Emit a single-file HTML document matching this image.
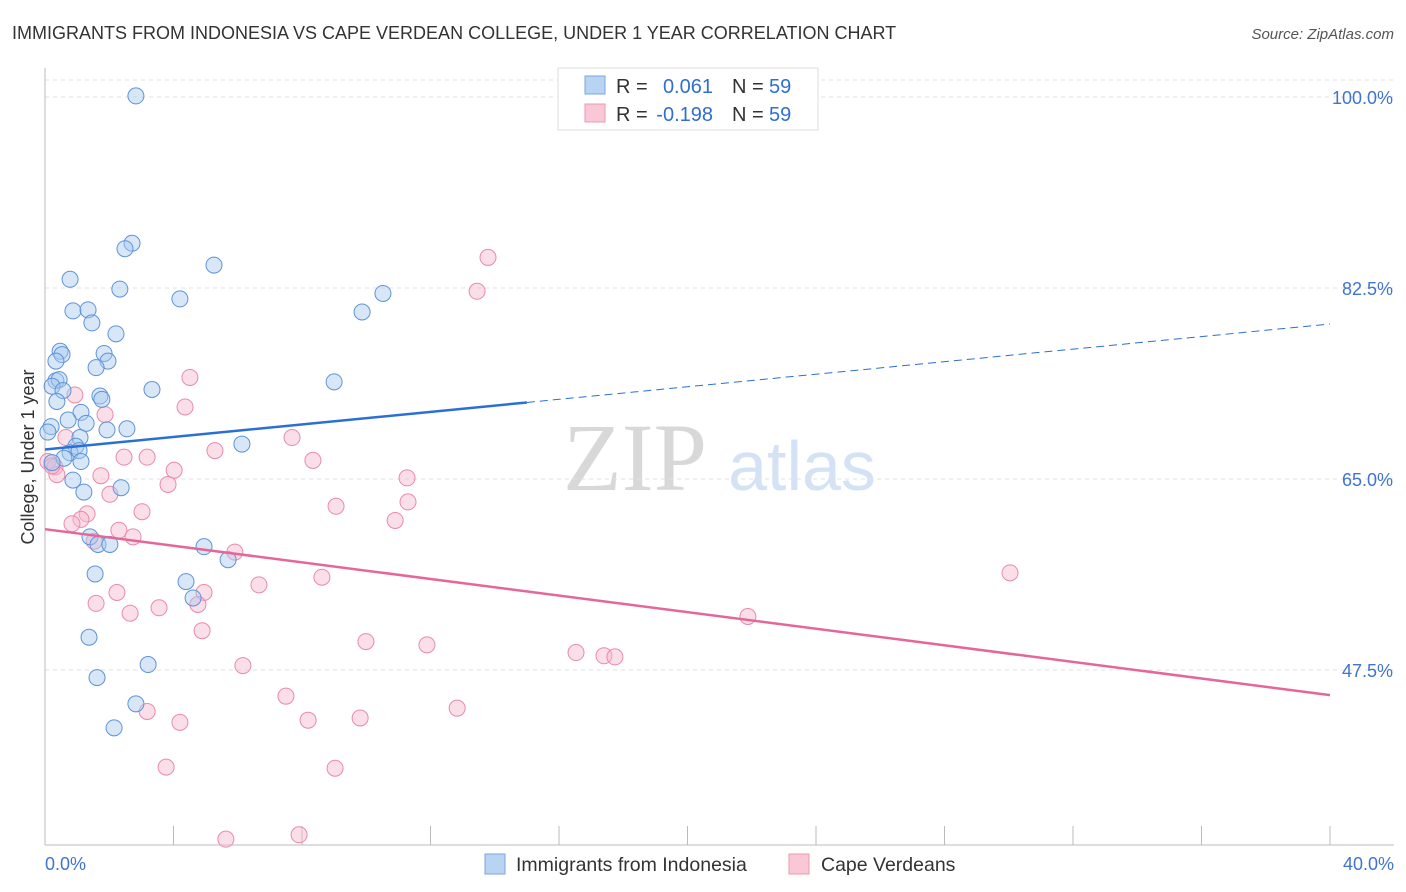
<!DOCTYPE html>
<html><head><meta charset="utf-8">
<style>
body{margin:0;background:#fff;font-family:"Liberation Sans",sans-serif;}
#wrap{position:relative;width:1406px;height:892px;overflow:hidden;}
</style></head>
<body>
<div id="wrap">
<svg id="chart" width="1406" height="892" xmlns="http://www.w3.org/2000/svg">
  <text x="12" y="39" font-size="18" fill="#333">IMMIGRANTS FROM INDONESIA VS CAPE VERDEAN COLLEGE, UNDER 1 YEAR CORRELATION CHART</text>
  <text x="1394" y="39" font-size="15" fill="#555" font-style="italic" text-anchor="end">Source: ZipAtlas.com</text>
  <text x="635" y="490" font-size="96" fill="#d8d8d8" font-family="Liberation Serif,serif" text-anchor="middle">ZIP</text>
  <text x="802" y="490" font-size="70" fill="#d3e3f5" text-anchor="middle">atlas</text>
  <text transform="translate(34,457) rotate(-90)" font-size="18" fill="#333" text-anchor="middle">College, Under 1 year</text>
  <g id="grid"></g>
  <g id="marks"></g>
  <g>
    <rect x="558" y="68" width="260" height="62" fill="#fff" stroke="#ddd"/>
    <rect x="585" y="76" width="20" height="18" fill="#b9d3f3" stroke="#7aa6e0"/>
    <rect x="585" y="104" width="20" height="18" fill="#f9c7d6" stroke="#ec98b4"/>
    <text x="616" y="93" font-size="20" fill="#333">R =</text>
    <text x="713" y="93" font-size="20" fill="#2f6fd0" text-anchor="end">0.061</text>
    <text x="732" y="93" font-size="20" fill="#333">N =</text>
    <text x="769" y="93" font-size="20" fill="#2f6fd0">59</text>
    <text x="616" y="121" font-size="20" fill="#333">R =</text>
    <text x="713" y="121" font-size="20" fill="#2f6fd0" text-anchor="end">-0.198</text>
    <text x="732" y="121" font-size="20" fill="#333">N =</text>
    <text x="769" y="121" font-size="20" fill="#2f6fd0">59</text>
  </g>
  <g>
    <rect x="485" y="854" width="20" height="20" fill="#b9d3f3" stroke="#7aa6e0"/>
    <text x="516" y="871" font-size="19.5" fill="#333">Immigrants from Indonesia</text>
    <rect x="789" y="854" width="20" height="20" fill="#f9c7d6" stroke="#ec98b4"/>
    <text x="821" y="871" font-size="19.5" fill="#333">Cape Verdeans</text>
  </g>
</svg>
</div>
<script>
const blueX=[2.83,2.71,2.49,5.26,0.78,2.33,4.20,10.52,0.87,1.34,9.87,1.46,2.21,0.47,0.53,1.84,0.34,1.96,1.59,0.34,0.44,0.22,9.00,3.33,0.56,1.71,1.77,0.37,1.12,0.72,1.28,6.13,0.19,0.09,1.93,2.55,1.09,0.96,0.78,1.06,0.59,1.12,0.22,2.37,0.87,1.21,1.40,1.65,2.02,4.95,5.70,1.56,4.39,4.61,1.37,3.21,1.62,2.83,2.15];
const blueY=[100.1,86.6,86.1,84.6,83.3,82.4,81.5,82.0,80.4,80.5,80.3,79.3,78.3,76.7,76.4,76.5,75.8,75.8,75.2,74.0,74.1,73.5,73.9,73.2,73.1,72.6,72.3,72.1,71.1,70.4,70.1,68.2,69.8,69.3,69.5,69.6,68.8,68.0,67.4,67.6,66.9,66.6,66.5,64.2,64.9,63.8,59.7,59.0,59.0,58.8,57.6,56.3,55.6,54.1,50.5,48.0,46.8,44.4,42.2];
const pinkX=[13.79,13.45,4.51,0.93,4.36,1.87,0.65,7.69,5.29,2.46,3.18,8.34,0.09,0.31,4.02,0.37,1.74,11.27,3.83,2.02,11.30,9.06,1.31,3.02,1.12,10.90,0.84,2.30,2.74,1.53,5.91,8.62,6.66,30.04,2.24,4.95,1.59,4.76,3.55,2.65,21.88,4.89,9.99,11.89,16.53,17.40,17.74,6.16,7.50,3.18,12.83,4.20,8.19,9.81,3.77,9.03,5.63,7.91,0.22];
const pinkY=[85.3,82.2,74.3,72.7,71.6,70.9,68.8,68.8,67.6,67.0,67.0,66.7,66.6,66.1,65.8,65.4,65.3,65.1,64.5,63.6,62.9,62.5,61.8,62.0,61.3,61.2,60.9,60.3,59.7,59.3,58.3,56.0,55.3,56.4,54.6,54.6,53.6,53.5,53.2,52.7,52.4,51.1,50.1,49.8,49.1,48.8,48.7,47.9,45.1,43.7,44.0,42.7,42.9,43.1,38.6,38.5,32.0,32.4,66.2];
const yTicks=[100,82.5,65,47.5];
const yTickLabels=["100.0%","82.5%","65.0%","47.5%"];
const xTickVals=[0,4,8,12,16,20,24,28,32,36,40];
const blueLine=[67.7,79.2];
const pinkLine=[60.4,45.2];
const blueSolidEnd=15;

const NS="http://www.w3.org/2000/svg";
const xs=v=>45+v*32.125;
const ys=v=>97+(100-v)*10.914;
function mk(tag,attrs,parent){const e=document.createElementNS(NS,tag);for(const k in attrs)e.setAttribute(k,attrs[k]);parent.appendChild(e);return e;}
const grid=document.getElementById('grid'),marks=document.getElementById('marks');
yTicks.forEach((t,i)=>{
  const l=mk('line',{x1:45,x2:1394,y1:ys(t),y2:ys(t),stroke:'#e2e2e2','stroke-dasharray':'4,4'},grid);
  
  
  const tx=mk('text',{x:1393,y:ys(t)+7,'font-size':18,fill:'#3f74cf','text-anchor':'end'},grid);
  tx.textContent=yTickLabels[i];
  
  
});
mk('line',{x1:45,x2:1394,y1:80,y2:80,stroke:'#e2e2e2','stroke-dasharray':'4,4'},grid);
const ax=mk('line',{x1:45,x2:45,y1:68,y2:845,stroke:'#bbb'},grid);


const bx=mk('line',{x1:45,x2:1394,y1:845,y2:845,stroke:'#bbb'},grid);


xTickVals.forEach(t=>{
  const l=mk('line',{x1:xs(t),x2:xs(t),y1:826,y2:845,stroke:'#bbb'},grid);
  
  
});
const xl0=mk('text',{x:45,y:870,'font-size':18,fill:'#3f74cf'},grid);xl0.textContent='0.0%';


const xl1=mk('text',{x:1394,y:870,'font-size':18,fill:'#3f74cf','text-anchor':'end'},grid);xl1.textContent='40.0%';



function pts(X,Y,fill,stroke,name){
  X.forEach((x,i)=>{
    const c=mk('circle',{cx:xs(x),cy:ys(Y[i]),r:8,fill:fill,stroke:stroke,'stroke-width':1,'fill-opacity':0.45},marks);
    
    
  });
}
pts(pinkX,pinkY,'#f6b8cc','#e98aab','cape-verdean-point');
pts(blueX,blueY,'#a9c9f0','#5e93d8','indonesia-point');
const by=x=>blueLine[0]+(blueLine[1]-blueLine[0])*x/40;
const l1=mk('line',{x1:xs(0),y1:ys(by(0)),x2:xs(blueSolidEnd),y2:ys(by(blueSolidEnd)),stroke:'#2a6fd6','stroke-width':2.5},marks);


const l2=mk('line',{x1:xs(blueSolidEnd),y1:ys(by(blueSolidEnd)),x2:xs(40),y2:ys(by(40)),stroke:'#2a6fd6','stroke-width':1,'stroke-dasharray':'8,5'},marks);


const l3=mk('line',{x1:xs(0),y1:ys(pinkLine[0]),x2:xs(40),y2:ys(pinkLine[1]),stroke:'#e5679a','stroke-width':2.5},marks);


</script>
</body></html>
